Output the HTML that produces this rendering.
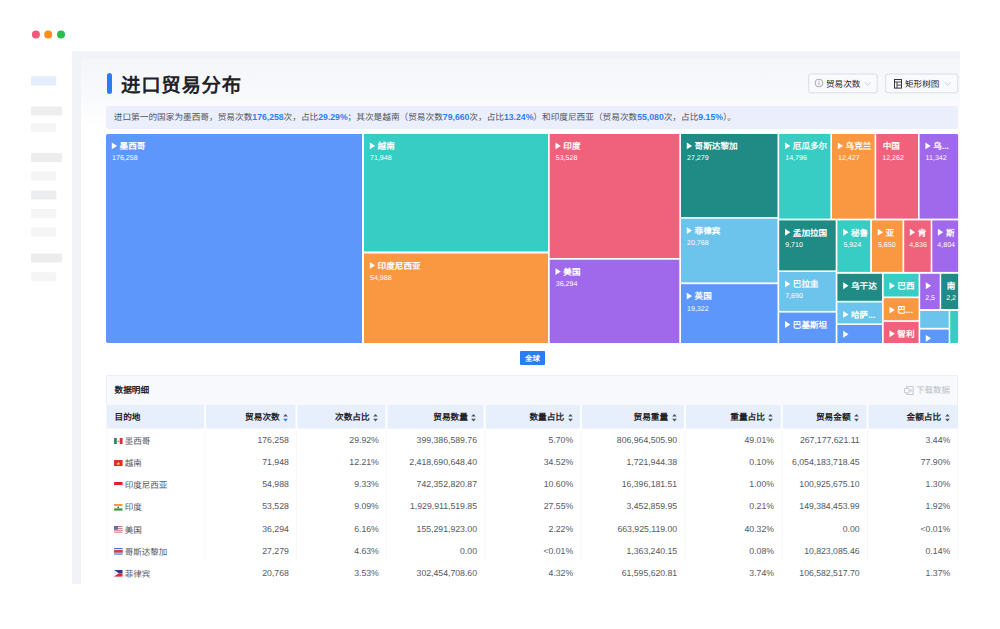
<!DOCTYPE html>
<html lang="zh-CN">
<head>
<meta charset="utf-8">
<title>进口贸易分布</title>
<style>
*{box-sizing:border-box;margin:0;padding:0}
html,body{width:1000px;height:629px;background:#fff;overflow:hidden}
body{position:relative;font-family:"Liberation Sans",sans-serif;color:#1f2329;text-rendering:geometricPrecision}
div,span,i,u,b{position:absolute}
i,u{font-style:normal;text-decoration:none}
.panel{left:72px;top:51px;width:888.3px;height:533px;background:#f2f3f8}
.card{left:9px;top:8px;right:0;height:552px;background:linear-gradient(#f5f6fa 0,#f8f9fc 34px,#fff 68px,#fff 100%)}
.accent{left:106.6px;top:73px;width:5.2px;height:21px;border-radius:2.6px;background:#2b7cf7}
.title{left:121px;top:72.3px;font-size:19.4px;line-height:28px;font-weight:bold;color:#1f2329;white-space:nowrap;letter-spacing:.75px}
.btn{top:73.6px;height:20px;border:1px solid transparent}
.btn span{top:0;line-height:19.2px;font-size:8.6px;color:#1f2329;white-space:nowrap}
.btn svg{position:absolute}
.sum{left:106px;top:106px;width:852px;height:22.8px;background:#ebeffb;border-radius:3px;font-size:8.67px;line-height:22.8px;color:#50555e;white-space:nowrap}
.sum span{position:static}
.sum em{font-style:normal;color:#2b7cf7;font-weight:bold}
.tc{overflow:hidden;color:#fff}
.tl{top:7px;height:10px;white-space:nowrap;font-size:8.6px;line-height:10px;font-weight:bold}
.tl b{position:static}
.tv{top:20.4px;font-size:7.1px;line-height:9px;white-space:nowrap}
.glob{left:519.6px;top:351.3px;width:25.6px;height:14px;background:#2b7cf7;border-radius:1px;color:#fff;font-size:7.4px;font-weight:bold;line-height:16.6px;text-align:center;overflow:hidden;white-space:nowrap}
.tcard{left:106.3px;top:375px;width:851.7px;height:30px;background:#f8f9fd;border:1px solid #eceef4;border-bottom:0;border-radius:2px 2px 0 0}
.tt{left:114.5px;top:383.7px;font-size:8.67px;line-height:13px;font-weight:bold;color:#1f2329;white-space:nowrap}
.dl{left:916px;top:384px;font-size:8.5px;line-height:13px;color:#b9bdc6;white-space:nowrap}
.th{top:405px;height:23.6px;font-size:8.67px;line-height:25.4px;text-align:right;padding-right:15.9px;white-space:nowrap}
.th b{position:static}
.th.l{text-align:left;padding:0 0 0 8.2px}
.so{position:absolute;right:7.4px;top:9.2px;width:5px;height:7.4px;fill:#4e535c}
.so.d .dn{fill:#2b7cf7}
.td{height:16px;line-height:16px;font-size:8.7px;color:#555a63;text-align:right;padding-right:6.8px;white-space:nowrap}
.td.l{text-align:left;padding:0;font-size:8.55px}
.td.l span{left:18.4px;top:1px}
.fl{position:absolute;left:8px;top:5.6px;width:8.6px;height:6.6px}
</style>
</head>
<body>
<svg style="position:absolute;left:30px;top:28px" width="40" height="14" viewBox="0 0 40 14"><circle cx="5.9" cy="6.5" r="4" fill="#f2587a"/><circle cx="18.2" cy="6.5" r="4" fill="#fb8c1e"/><circle cx="31" cy="6.5" r="4" fill="#2dbd4e"/></svg>

<div class="panel"><div class="card"></div></div>
<svg style="position:absolute;left:0;top:0" width="1000" height="629" viewBox="0 0 1000 629"><rect x="31" y="76.3" width="25.3" height="9.1" rx="1" fill="#e3edfb"/><rect x="31" y="106.4" width="31" height="9.1" rx="1" fill="#ededee"/><rect x="31" y="123" width="25.3" height="9.1" rx="1" fill="#f5f5f6"/><rect x="31" y="153" width="31" height="9.1" rx="1" fill="#ededee"/><rect x="31" y="171.4" width="25.3" height="9.1" rx="1" fill="#f5f5f6"/><rect x="31" y="190.4" width="25.3" height="9.1" rx="1" fill="#ebedef"/><rect x="31" y="209" width="25.3" height="9.1" rx="1" fill="#f5f5f6"/><rect x="31" y="227.4" width="25.3" height="9.1" rx="1" fill="#f5f5f6"/><rect x="31" y="253.4" width="31" height="9.1" rx="1" fill="#ededee"/><rect x="31" y="272.2" width="25.3" height="9.1" rx="1" fill="#f5f5f6"/><rect x="808.7" y="74" width="68.5" height="18.8" rx="2" fill="#f9fafc" stroke="#d9dce6"/><rect x="885.7" y="74" width="72.1" height="18.8" rx="2" fill="#f9fafc" stroke="#d9dce6"/><clipPath id="tmc"><rect x="106" y="133.9" width="852.4" height="209.1" rx="1.8"/></clipPath><g clip-path="url(#tmc)"><rect x="106" y="134" width="256.0" height="209.0" fill="#5d97fb"/><rect x="364" y="134" width="184.0" height="117.5" fill="#38cdc4"/><rect x="364" y="253.5" width="184.0" height="89.5" fill="#f99840"/><rect x="549.7" y="134" width="129.6" height="124.0" fill="#f0617b"/><rect x="549.7" y="259.7" width="129.6" height="83.3" fill="#a068ea"/><rect x="681" y="134" width="96.5" height="83.1" fill="#208b84"/><rect x="681" y="218.7" width="96.5" height="63.7" fill="#6cc4ec"/><rect x="681" y="284.2" width="96.5" height="58.8" fill="#5d97fb"/><rect x="779.2" y="134" width="51.2" height="84.6" fill="#38cdc4"/><rect x="832" y="134" width="42.6" height="84.6" fill="#f99840"/><rect x="876.2" y="134" width="41.8" height="84.6" fill="#f0617b"/><rect x="919.6" y="134" width="38.8" height="84.6" fill="#a068ea"/><rect x="779.2" y="220.4" width="56.5" height="50.0" fill="#208b84"/><rect x="837.4" y="220.4" width="32.8" height="51.5" fill="#38cdc4"/><rect x="871.9" y="220.4" width="30.6" height="51.5" fill="#f99840"/><rect x="904.2" y="220.4" width="26.5" height="51.5" fill="#f0617b"/><rect x="932.3" y="220.4" width="26.1" height="51.5" fill="#a068ea"/><rect x="779.2" y="272" width="56.5" height="38.9" fill="#6cc4ec"/><rect x="779.2" y="312.6" width="56.5" height="30.4" fill="#5d97fb"/><rect x="837.4" y="273.8" width="44.6" height="27.0" fill="#208b84"/><rect x="837.4" y="302.5" width="44.6" height="20.9" fill="#6cc4ec"/><rect x="837.4" y="325" width="44.6" height="18.0" fill="#5d97fb"/><rect x="883.7" y="273.8" width="34.9" height="22.7" fill="#38cdc4"/><rect x="883.7" y="298.2" width="34.9" height="22.0" fill="#f99840"/><rect x="883.7" y="321.9" width="34.9" height="21.1" fill="#f0617b"/><rect x="920.2" y="273.8" width="19.5" height="35.2" fill="#a068ea"/><rect x="941.2" y="273.8" width="17.2" height="35.2" fill="#208b84"/><rect x="920.2" y="311" width="28.5" height="16.8" fill="#6cc4ec"/><rect x="920.2" y="329.6" width="28.5" height="13.4" fill="#5d97fb"/><rect x="950.2" y="311" width="8.2" height="32.0" fill="#38cdc4"/></g><path fill="#fff" d="M111.80 142.45l5.3 3.45l-5.3 3.45zM369.80 142.45l5.3 3.45l-5.3 3.45zM369.80 261.95l5.3 3.45l-5.3 3.45zM555.50 142.45l5.3 3.45l-5.3 3.45zM555.50 268.15l5.3 3.45l-5.3 3.45zM686.80 142.45l5.3 3.45l-5.3 3.45zM686.80 227.15l5.3 3.45l-5.3 3.45zM686.80 292.65l5.3 3.45l-5.3 3.45zM785.00 142.45l5.3 3.45l-5.3 3.45zM837.80 142.45l5.3 3.45l-5.3 3.45zM925.40 142.45l5.3 3.45l-5.3 3.45zM785.00 228.85l5.3 3.45l-5.3 3.45zM843.20 228.85l5.3 3.45l-5.3 3.45zM877.70 228.85l5.3 3.45l-5.3 3.45zM909.80 228.85l5.3 3.45l-5.3 3.45zM937.90 228.85l5.3 3.45l-5.3 3.45zM785.00 280.45l5.3 3.45l-5.3 3.45zM785.00 321.05l5.3 3.45l-5.3 3.45zM843.20 282.25l5.3 3.45l-5.3 3.45zM843.20 310.95l5.3 3.45l-5.3 3.45zM843.20 330.75l5.3 3.45l-5.3 3.45zM889.50 282.25l5.3 3.45l-5.3 3.45zM889.50 306.65l5.3 3.45l-5.3 3.45zM889.50 330.35l5.3 3.45l-5.3 3.45zM925.80 282.25l5.3 3.45l-5.3 3.45zM925.80 334.90l5.3 3.45l-5.3 3.45z"/><rect x="106.3" y="404.6" width="98.0" height="24" fill="#e8effc"/><rect x="206" y="404.6" width="89.6" height="24" fill="#e8effc"/><rect x="297.4" y="404.6" width="88.2" height="24" fill="#e8effc"/><rect x="387.4" y="404.6" width="96.4" height="24" fill="#e8effc"/><rect x="485.7" y="404.6" width="94.3" height="24" fill="#e8effc"/><rect x="582" y="404.6" width="102.0" height="24" fill="#e8effc"/><rect x="686" y="404.6" width="94.8" height="24" fill="#e8effc"/><rect x="782.7" y="404.6" width="83.8" height="24" fill="#e8effc"/><rect x="868.5" y="404.6" width="89.5" height="24" fill="#e8effc"/><path stroke="#f6f7fb" stroke-width="1" fill="none" d="M205.2 429V561M296.5 429V561M386.5 429V561M484.8 429V561M581.0 429V561M685.0 429V561M781.8 429V561M867.5 429V561M106.8 429V561M957.5 429V561"/></svg>
<div class="accent"></div>
<div class="title">进口贸易分布</div>
<div class="btn" style="left:808.2px;width:69.3px">
<svg style="left:5px;top:3.9px" width="10" height="10" viewBox="0 0 10 10"><circle cx="5" cy="5" r="3.9" fill="none" stroke="#8a9099" stroke-width=".75"/><rect x="4.62" y="4.3" width=".76" height="2.9" fill="#8a9099"/><rect x="4.62" y="2.7" width=".76" height=".9" fill="#8a9099"/></svg>
<span style="left:16.8px">贸易次数</span>
<svg style="left:55px;top:7.6px" width="7" height="4" viewBox="0 0 7 4"><path d="M.6.5l2.9 2.8L6.4.5" fill="none" stroke="#c0c4cc" stroke-width=".8"/></svg>
</div>
<div class="btn" style="left:885.2px;width:73px">
<svg style="left:7.6px;top:4.8px" width="8" height="10" viewBox="0 0 8 10"><rect x=".5" y=".5" width="7" height="8.6" fill="none" stroke="#33373d" stroke-width="1"/><path d="M.5 3h7M3 3v6.1M3 6.1h4.5" fill="none" stroke="#33373d" stroke-width=".9"/></svg>
<span style="left:18.8px">矩形树图</span>
<svg style="left:58px;top:7.6px" width="7" height="4" viewBox="0 0 7 4"><path d="M.6.5l2.9 2.8L6.4.5" fill="none" stroke="#c0c4cc" stroke-width=".8"/></svg>
</div>
<div class="sum"><span style="margin-left:7.8px">进口第一的国家为墨西哥，贸易次数<em>176,258</em>次，占比<em>29.29%</em>；其次是越南（贸易次数<em>79,660</em>次，占比<em>13.24%</em>）和印度尼西亚（贸易次数<em>55,080</em>次，占比<em>9.15%</em>）。</span></div>
<div class="tc" style="left:106px;top:134px;width:256.0px;height:209.0px"><div class="tl" style="left:13.6px;top:7.2px"><b>墨西哥</b></div><div class="tv" style="left:6px">176,258</div></div><div class="tc" style="left:364px;top:134px;width:184.0px;height:117.5px"><div class="tl" style="left:13.6px;top:7.2px"><b>越南</b></div><div class="tv" style="left:6px">71,948</div></div><div class="tc" style="left:364px;top:253.5px;width:184.0px;height:89.5px"><div class="tl" style="left:13.6px;top:7.2px"><b>印度尼西亚</b></div><div class="tv" style="left:6px">54,988</div></div><div class="tc" style="left:549.7px;top:134px;width:129.6px;height:124.0px"><div class="tl" style="left:13.6px;top:7.2px"><b>印度</b></div><div class="tv" style="left:6px">53,528</div></div><div class="tc" style="left:549.7px;top:259.7px;width:129.6px;height:83.3px"><div class="tl" style="left:13.6px;top:7.2px"><b>美国</b></div><div class="tv" style="left:6px">36,294</div></div><div class="tc" style="left:681px;top:134px;width:96.5px;height:83.1px"><div class="tl" style="left:13.6px;top:7.2px"><b>哥斯达黎加</b></div><div class="tv" style="left:6px">27,279</div></div><div class="tc" style="left:681px;top:218.7px;width:96.5px;height:63.7px"><div class="tl" style="left:13.6px;top:7.2px"><b>菲律宾</b></div><div class="tv" style="left:6px">20,768</div></div><div class="tc" style="left:681px;top:284.2px;width:96.5px;height:58.8px"><div class="tl" style="left:13.6px;top:7.2px"><b>英国</b></div><div class="tv" style="left:6px">19,322</div></div><div class="tc" style="left:779.2px;top:134px;width:51.2px;height:84.6px"><div class="tl" style="left:13.6px;top:7.2px"><b>厄瓜多尔</b></div><div class="tv" style="left:6px">14,796</div></div><div class="tc" style="left:832px;top:134px;width:42.6px;height:84.6px"><div class="tl" style="left:13.6px;top:7.2px"><b>乌克兰</b></div><div class="tv" style="left:6px">12,427</div></div><div class="tc" style="left:876.2px;top:134px;width:41.8px;height:84.6px"><div class="tl" style="left:6.5px;top:7.2px"><b>中国</b></div><div class="tv" style="left:6px">12,262</div></div><div class="tc" style="left:919.6px;top:134px;width:38.8px;height:84.6px"><div class="tl" style="left:13.6px;top:7.2px"><b>乌...</b></div><div class="tv" style="left:6px">11,342</div></div><div class="tc" style="left:779.2px;top:220.4px;width:56.5px;height:50.0px"><div class="tl" style="left:13.6px;top:7.2px"><b>孟加拉国</b></div><div class="tv" style="left:6px">9,710</div></div><div class="tc" style="left:837.4px;top:220.4px;width:32.8px;height:51.5px"><div class="tl" style="left:13.6px;top:7.2px"><b>秘鲁</b></div><div class="tv" style="left:6px">5,924</div></div><div class="tc" style="left:871.9px;top:220.4px;width:30.6px;height:51.5px"><div class="tl" style="left:13.6px;top:7.2px"><b>亚</b></div><div class="tv" style="left:6px">5,650</div></div><div class="tc" style="left:904.2px;top:220.4px;width:26.5px;height:51.5px"><div class="tl" style="left:13.6px;top:7.2px"><b>肯</b></div><div class="tv" style="left:5px">4,836</div></div><div class="tc" style="left:932.3px;top:220.4px;width:26.1px;height:51.5px"><div class="tl" style="left:13.6px;top:7.2px"><b>斯</b></div><div class="tv" style="left:5px">4,804</div></div><div class="tc" style="left:779.2px;top:272px;width:56.5px;height:38.9px"><div class="tl" style="left:13.6px;top:7.2px"><b>巴拉圭</b></div><div class="tv" style="left:6px">7,690</div></div><div class="tc" style="left:779.2px;top:312.6px;width:56.5px;height:30.4px"><div class="tl" style="left:13.6px;top:7.2px"><b>巴基斯坦</b></div></div><div class="tc" style="left:837.4px;top:273.8px;width:44.6px;height:27.0px"><div class="tl" style="left:13.6px;top:7.2px"><b>乌干达</b></div></div><div class="tc" style="left:837.4px;top:302.5px;width:44.6px;height:20.9px"><div class="tl" style="left:13.6px;top:7.2px"><b>哈萨...</b></div></div><div class="tc" style="left:883.7px;top:273.8px;width:34.9px;height:22.7px"><div class="tl" style="left:13.6px;top:7.2px"><b>巴西</b></div></div><div class="tc" style="left:883.7px;top:298.2px;width:34.9px;height:22.0px"><div class="tl" style="left:13.6px;top:7.2px"><b>巴...</b></div></div><div class="tc" style="left:883.7px;top:321.9px;width:34.9px;height:21.1px"><div class="tl" style="left:13.6px;top:7.2px"><b>智利</b></div></div><div class="tc" style="left:920.2px;top:273.8px;width:19.5px;height:35.2px"><div class="tv" style="left:5px">2,5</div></div><div class="tc" style="left:941.2px;top:273.8px;width:17.2px;height:35.2px"><div class="tl" style="left:5.5px;top:7.2px"><b>南</b></div><div class="tv" style="left:5px">2,2</div></div>
<div class="glob">全球</div>
<div class="tcard"></div>
<div class="tt">数据明细</div>
<svg style="position:absolute;left:903.6px;top:385.6px" width="10" height="9" viewBox="0 0 10 9"><path d="M2.6 2V.5h6.6v8H2.6V7" fill="none" stroke="#b9bdc6" stroke-width=".8"/><rect x=".4" y="2.4" width="4.6" height="4.4" rx=".6" fill="none" stroke="#b9bdc6" stroke-width=".8"/><path d="M6.4 3.2v2.6M7.8 3.2v2.6" stroke="#b9bdc6" stroke-width=".7"/></svg>
<div class="dl">下载数据</div>
<div class="th l" style="left:106.3px;width:98.0px"><b>目的地</b></div><div class="th" style="left:206px;width:89.6px"><b>贸易次数</b><svg class="so d" viewBox="0 0 5 8"><path class="up" d="M2.5 0L5 2.8H0z"/><path class="dn" d="M2.5 8L5 5.2H0z"/></svg></div><div class="th" style="left:297.4px;width:88.2px"><b>次数占比</b><svg class="so" viewBox="0 0 5 8"><path class="up" d="M2.5 0L5 2.8H0z"/><path class="dn" d="M2.5 8L5 5.2H0z"/></svg></div><div class="th" style="left:387.4px;width:96.4px"><b>贸易数量</b><svg class="so" viewBox="0 0 5 8"><path class="up" d="M2.5 0L5 2.8H0z"/><path class="dn" d="M2.5 8L5 5.2H0z"/></svg></div><div class="th" style="left:485.7px;width:94.3px"><b>数量占比</b><svg class="so" viewBox="0 0 5 8"><path class="up" d="M2.5 0L5 2.8H0z"/><path class="dn" d="M2.5 8L5 5.2H0z"/></svg></div><div class="th" style="left:582px;width:102.0px"><b>贸易重量</b><svg class="so" viewBox="0 0 5 8"><path class="up" d="M2.5 0L5 2.8H0z"/><path class="dn" d="M2.5 8L5 5.2H0z"/></svg></div><div class="th" style="left:686px;width:94.8px"><b>重量占比</b><svg class="so" viewBox="0 0 5 8"><path class="up" d="M2.5 0L5 2.8H0z"/><path class="dn" d="M2.5 8L5 5.2H0z"/></svg></div><div class="th" style="left:782.7px;width:83.8px"><b>贸易金额</b><svg class="so" viewBox="0 0 5 8"><path class="up" d="M2.5 0L5 2.8H0z"/><path class="dn" d="M2.5 8L5 5.2H0z"/></svg></div><div class="th" style="left:867.5px;width:89.5px"><b>金额占比</b><svg class="so" viewBox="0 0 5 8"><path class="up" d="M2.5 0L5 2.8H0z"/><path class="dn" d="M2.5 8L5 5.2H0z"/></svg></div><div class="td l" style="left:106.3px;top:432.1px;width:98.0px"><svg class="fl" viewBox="0 0 9 7"><rect width="3" height="7" fill="#2a8a5a"/><rect x="3" width="3" height="7" fill="#fff"/><rect x="6" width="3" height="7" fill="#e0283c"/><circle cx="4.5" cy="3.5" r=".8" fill="#9a7b4f"/></svg><span>墨西哥</span></div><div class="td" style="left:206px;top:432.1px;width:89.6px">176,258</div><div class="td" style="left:297.4px;top:432.1px;width:88.2px">29.92%</div><div class="td" style="left:387.4px;top:432.1px;width:96.4px">399,386,589.76</div><div class="td" style="left:485.7px;top:432.1px;width:94.3px">5.70%</div><div class="td" style="left:582px;top:432.1px;width:102.0px">806,964,505.90</div><div class="td" style="left:686px;top:432.1px;width:94.8px">49.01%</div><div class="td" style="left:782.7px;top:432.1px;width:83.8px">267,177,621.11</div><div class="td" style="left:868.5px;top:432.1px;width:89.5px;padding-right:7.8px">3.44%</div><div class="td l" style="left:106.3px;top:454.2px;width:98.0px"><svg class="fl" viewBox="0 0 9 7"><rect width="9" height="7" fill="#e62a2a"/><path d="M4.5 1.6l.6 1.5h1.5l-1.2 1 .5 1.5-1.4-.9-1.4.9.5-1.5-1.2-1h1.5z" fill="#ffd84a"/></svg><span>越南</span></div><div class="td" style="left:206px;top:454.2px;width:89.6px">71,948</div><div class="td" style="left:297.4px;top:454.2px;width:88.2px">12.21%</div><div class="td" style="left:387.4px;top:454.2px;width:96.4px">2,418,690,648.40</div><div class="td" style="left:485.7px;top:454.2px;width:94.3px">34.52%</div><div class="td" style="left:582px;top:454.2px;width:102.0px">1,721,944.38</div><div class="td" style="left:686px;top:454.2px;width:94.8px">0.10%</div><div class="td" style="left:782.7px;top:454.2px;width:83.8px">6,054,183,718.45</div><div class="td" style="left:868.5px;top:454.2px;width:89.5px;padding-right:7.8px">77.90%</div><div class="td l" style="left:106.3px;top:476.3px;width:98.0px"><svg class="fl" viewBox="0 0 9 7"><rect width="9" height="3.5" fill="#e8202e"/><rect y="3.5" width="9" height="3.5" fill="#fff"/></svg><span>印度尼西亚</span></div><div class="td" style="left:206px;top:476.3px;width:89.6px">54,988</div><div class="td" style="left:297.4px;top:476.3px;width:88.2px">9.33%</div><div class="td" style="left:387.4px;top:476.3px;width:96.4px">742,352,820.87</div><div class="td" style="left:485.7px;top:476.3px;width:94.3px">10.60%</div><div class="td" style="left:582px;top:476.3px;width:102.0px">16,396,181.51</div><div class="td" style="left:686px;top:476.3px;width:94.8px">1.00%</div><div class="td" style="left:782.7px;top:476.3px;width:83.8px">100,925,675.10</div><div class="td" style="left:868.5px;top:476.3px;width:89.5px;padding-right:7.8px">1.30%</div><div class="td l" style="left:106.3px;top:498.4px;width:98.0px"><svg class="fl" viewBox="0 0 9 7"><rect width="9" height="2.3" fill="#f59a3a"/><rect y="2.3" width="9" height="2.4" fill="#fff"/><rect y="4.7" width="9" height="2.3" fill="#2f9a4a"/><circle cx="4.5" cy="3.5" r=".9" fill="#3949ab"/></svg><span>印度</span></div><div class="td" style="left:206px;top:498.4px;width:89.6px">53,528</div><div class="td" style="left:297.4px;top:498.4px;width:88.2px">9.09%</div><div class="td" style="left:387.4px;top:498.4px;width:96.4px">1,929,911,519.85</div><div class="td" style="left:485.7px;top:498.4px;width:94.3px">27.55%</div><div class="td" style="left:582px;top:498.4px;width:102.0px">3,452,859.95</div><div class="td" style="left:686px;top:498.4px;width:94.8px">0.21%</div><div class="td" style="left:782.7px;top:498.4px;width:83.8px">149,384,453.99</div><div class="td" style="left:868.5px;top:498.4px;width:89.5px;padding-right:7.8px">1.92%</div><div class="td l" style="left:106.3px;top:520.5px;width:98.0px"><svg class="fl" viewBox="0 0 9 7"><rect width="9" height="7" fill="#fff"/><g fill="#d8646e"><rect y="0" width="9" height="1"/><rect y="2" width="9" height="1"/><rect y="4" width="9" height="1"/><rect y="6" width="9" height="1"/></g><rect width="4" height="4" fill="#5b6aa8"/></svg><span>美国</span></div><div class="td" style="left:206px;top:520.5px;width:89.6px">36,294</div><div class="td" style="left:297.4px;top:520.5px;width:88.2px">6.16%</div><div class="td" style="left:387.4px;top:520.5px;width:96.4px">155,291,923.00</div><div class="td" style="left:485.7px;top:520.5px;width:94.3px">2.22%</div><div class="td" style="left:582px;top:520.5px;width:102.0px">663,925,119.00</div><div class="td" style="left:686px;top:520.5px;width:94.8px">40.32%</div><div class="td" style="left:782.7px;top:520.5px;width:83.8px">0.00</div><div class="td" style="left:868.5px;top:520.5px;width:89.5px;padding-right:7.8px">&lt;0.01%</div><div class="td l" style="left:106.3px;top:542.6px;width:98.0px"><svg class="fl" viewBox="0 0 9 7"><rect width="9" height="7" fill="#3d6fe0"/><rect y="1.2" width="9" height="1" fill="#fff"/><rect y="4.8" width="9" height="1" fill="#fff"/><rect y="2.2" width="9" height="2.6" fill="#e83a3a"/></svg><span>哥斯达黎加</span></div><div class="td" style="left:206px;top:542.6px;width:89.6px">27,279</div><div class="td" style="left:297.4px;top:542.6px;width:88.2px">4.63%</div><div class="td" style="left:387.4px;top:542.6px;width:96.4px">0.00</div><div class="td" style="left:485.7px;top:542.6px;width:94.3px">&lt;0.01%</div><div class="td" style="left:582px;top:542.6px;width:102.0px">1,363,240.15</div><div class="td" style="left:686px;top:542.6px;width:94.8px">0.08%</div><div class="td" style="left:782.7px;top:542.6px;width:83.8px">10,823,085.46</div><div class="td" style="left:868.5px;top:542.6px;width:89.5px;padding-right:7.8px">0.14%</div><div class="td l" style="left:106.3px;top:564.7px;width:98.0px"><svg class="fl" viewBox="0 0 9 7"><rect width="9" height="3.5" fill="#27408b"/><rect y="3.5" width="9" height="3.5" fill="#e0283c"/><path d="M0 0L5 3.5 0 7z" fill="#fff"/><circle cx="1.6" cy="3.5" r=".7" fill="#f5c542"/></svg><span>菲律宾</span></div><div class="td" style="left:206px;top:564.7px;width:89.6px">20,768</div><div class="td" style="left:297.4px;top:564.7px;width:88.2px">3.53%</div><div class="td" style="left:387.4px;top:564.7px;width:96.4px">302,454,708.60</div><div class="td" style="left:485.7px;top:564.7px;width:94.3px">4.32%</div><div class="td" style="left:582px;top:564.7px;width:102.0px">61,595,620.81</div><div class="td" style="left:686px;top:564.7px;width:94.8px">3.74%</div><div class="td" style="left:782.7px;top:564.7px;width:83.8px">106,582,517.70</div><div class="td" style="left:868.5px;top:564.7px;width:89.5px;padding-right:7.8px">1.37%</div>
</body>
</html>
